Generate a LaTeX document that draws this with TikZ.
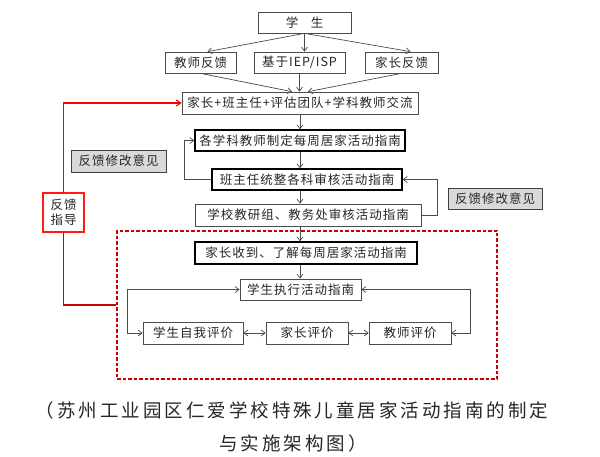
\documentclass[tikz,border=0pt]{standalone}
\usepackage{fontspec}
\newfontfamily\cjk[LetterSpace=8]{Noto Sans CJK SC}
\newfontfamily\cjkcap[LetterSpace=16]{Noto Sans CJK SC}
\usetikzlibrary{arrows.meta}
\begin{document}
\begin{tikzpicture}[x=1pt,y=-1pt,
  box/.style={draw=black!70, line width=0.7pt, fill=white, minimum height=21, inner sep=0,
    font=\cjk\fontsize{12.5}{15}\selectfont, text=black!85},
  heavy/.style={box, draw=black, line width=1.4pt},
  fbbox/.style={box, fill=black!15, draw=black!75, line width=0.9pt},
  redbox/.style={box, draw=red!90, line width=1.3pt, align=center},
  arr/.style={draw=black!70, line width=0.7pt, -{Straight Barb[length=4pt,width=6pt]}},
  dbl/.style={draw=black!70, line width=0.7pt, {Straight Barb[length=4pt,width=6pt]}-{Straight Barb[length=4pt,width=6pt]}},
  redarr/.style={draw=red, line width=1.1pt, -{Straight Barb[length=4.5pt,width=6pt]}},
  redline/.style={draw=red!80!black, line width=1.3pt},
  dashbox/.style={draw=red!80!black, dashed, line width=1.2pt, dash pattern=on 3.5pt off 2pt, inner sep=0},
  captext/.style={font=\cjkcap\fontsize{18.5}{22}\selectfont, text=black!85, inner sep=0}
]
\useasboundingbox (0,0) rectangle (600,457);

% top
\node[box, minimum width=93] (stu) at (304.5,22.5) {学\quad 生};
\node[box, minimum width=71] (jsfk) at (200.5,62.5) {教师反馈};
\node[box, minimum width=91] (iep) at (299.5,62.5) {基于IEP/ISP};
\node[box, minimum width=73] (jzfk) at (401.5,62.5) {家长反馈};
\node[box, minimum width=236, minimum height=22] (jl) at (300,103) {家长+班主任+评估团队+学科教师交流};
\node[heavy, minimum width=210] (zd) at (300,140.5) {各学科教师制定每周居家活动指南};
\node[heavy, minimum width=190] (tz) at (307,179.5) {班主任统整各科审核活动指南};
\node[box, minimum width=226, minimum height=22] (sh) at (308,215) {学校教研组、教务处审核活动指南};
\node[fbbox, minimum width=95, minimum height=22] (fb1) at (118.5,161) {反馈修改意见};
\node[fbbox, minimum width=94] (fb2) at (495,198.5) {反馈修改意见};
\node[redbox, minimum width=41, minimum height=39] (fd) at (63.5,212.5) {反馈\\指导};

% dashed region
\node[dashbox, minimum width=380, minimum height=148] (dash) at (307,305) {};
\node[heavy, minimum width=222, minimum height=22] (sd) at (306,253) {家长收到、了解每周居家活动指南};
\node[box, minimum width=121] (zx) at (300.5,289.5) {学生执行活动指南};
\node[box, minimum width=100, minimum height=22] (zw) at (193,333) {学生自我评价};
\node[box, minimum width=82, minimum height=22] (jzpj) at (307,333) {家长评价};
\node[box, minimum width=82, minimum height=22] (jspj) at (410,333) {教师评价};

\coordinate (L) at (127,290);
\coordinate (R) at (470,290);

% arrows top
\draw[arr] (stu.south) -- ([xshift=7]jsfk.north);
\draw[arr] (stu.south) -- (stu.south |- iep.north);
\draw[arr] (stu.south) -- ([xshift=9]jzfk.north);
\draw[arr] (jsfk.south) -- ([xshift=-8]jl.north);
\draw[arr] (iep.south) -- (iep.south |- jl.north);
\draw[arr] (jzfk.south) -- ([xshift=8]jl.north);
\draw[arr] (jl.south) -- (jl.south |- zd.north);
\draw[arr] (zd.south) -- (zd.south |- tz.north);
\draw[arr] (zd.south |- tz.south) -- (zd.south |- sh.north);
\draw[arr] (zd.south |- sh.south) -- (zd.south |- sd.north);
\draw[arr] (zd.south |- sd.south) -- (zd.south |- zx.north);

% loops
\draw[arr] (tz.west) -- ++(-27,0) |- (zd.west);
\draw[arr] (sh.east) -- ++(16,0) |- (tz.east);
\draw[dbl] (zx.west) -- (zx.west -| L) |- (zw.west);
\draw[dbl] (zx.east) -- (zx.east -| R) |- (jspj.east);
\draw[dbl] (zw.east) -- (jzpj.west);
\draw[dbl] (jzpj.east) -- (jspj.west);

% red
\draw[redarr] (fd.north) |- (jl.west);
\draw[redline] (fd.south) |- (dash.west);

% caption
\node[captext] (c1) at (292,410) {（苏州工业园区仁爱学校特殊儿童居家活动指南的制定};
\node[captext] (c2) at (293,443) {与实施架构图）};
\end{tikzpicture}
\end{document}
